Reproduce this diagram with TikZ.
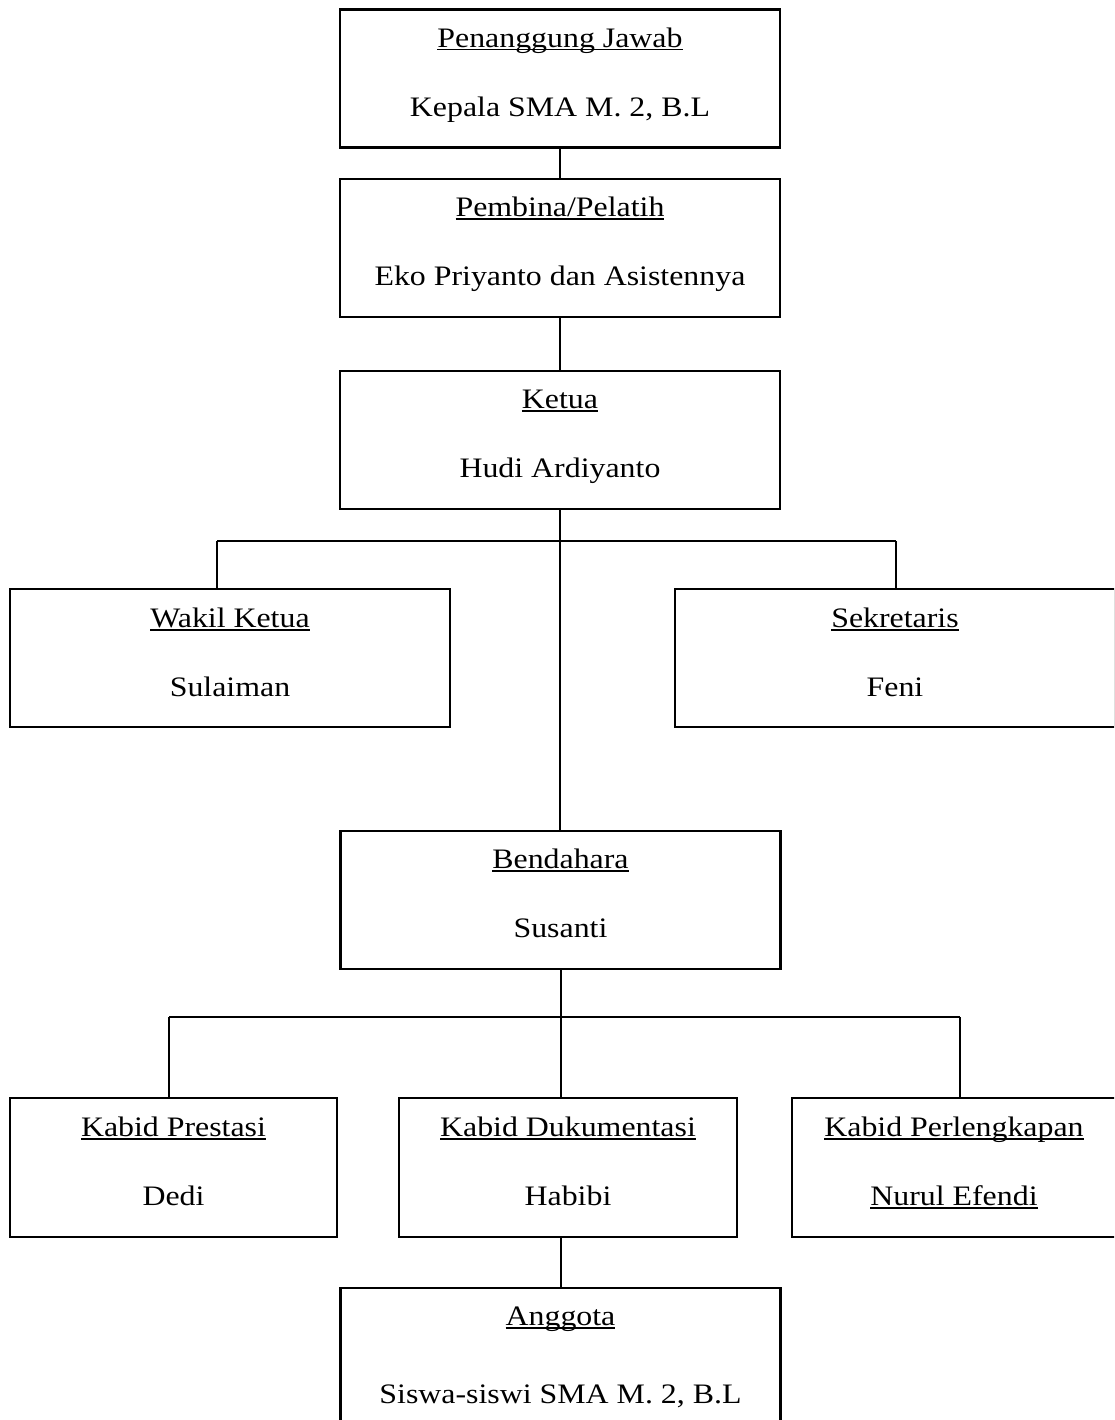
\documentclass[tikz,border=0pt]{standalone}
\usepackage{fontspec}
\setmainfont{Liberation Serif}[FakeStretch=1.13]
\newcommand\myul[1]{\setbox0\hbox{#1}\rlap{\rule[-3bp]{\wd0}{1.6bp}}\box0}
\begin{document}
\begin{tikzpicture}[x=1bp,y=-1bp,
  orgbox/.style={draw, line width=2.3bp, minimum height=138bp, inner sep=0pt},
  lbl/.style={anchor=base, inner sep=0pt, font=\fontsize{28.2bp}{34bp}\selectfont},
  link/.style={line width=2bp}]
\clip (0,0) rectangle (1114,1420);
% boxes
\node[orgbox, minimum width=440bp] (pj) at (560,78.5) {};
\node[orgbox, minimum width=440bp] (pb) at (560,248) {};
\node[orgbox, minimum width=440bp] (kt) at (560,440) {};
\node[orgbox, minimum width=440bp] (wk) at (230,658) {};
\node[orgbox, minimum width=440bp] (sk) at (895,658) {};
\node[orgbox, minimum width=440bp] (bd) at (560.5,900) {};
\node[orgbox, minimum width=327bp, minimum height=139bp] (pr) at (173.5,1167.5) {};
\node[orgbox, minimum width=338bp, minimum height=139bp] (dk) at (568,1167.5) {};
\node[orgbox, minimum width=324bp, minimum height=139bp] (pl) at (954,1167.5) {};
\node[orgbox, minimum width=440bp] (ag) at (560.5,1357) {};
% texts
\node[lbl] (pjt) at ([yshift=-39bp]pj.north) {\myul{Penanggung Jawab}};
\node[lbl] (pjn) at ([yshift=-108bp]pj.north) {Kepala SMA M. 2, B.L};
\node[lbl] (pbt) at ([yshift=-39bp]pb.north) {\myul{Pembina/Pelatih}};
\node[lbl] (pbn) at ([yshift=-108bp]pb.north) {Eko Priyanto dan Asistennya};
\node[lbl] (ktt) at ([yshift=-39bp]kt.north) {\myul{Ketua}};
\node[lbl] (ktn) at ([yshift=-108bp]kt.north) {Hudi Ardiyanto};
\node[lbl] (wkt) at ([yshift=-40bp]wk.north) {\myul{Wakil Ketua}};
\node[lbl] (wkn) at ([yshift=-109bp]wk.north) {Sulaiman};
\node[lbl] (skt) at ([yshift=-40bp]sk.north) {\myul{Sekretaris}};
\node[lbl] (skn) at ([yshift=-109bp]sk.north) {Feni};
\node[lbl] (bdt) at ([yshift=-39bp]bd.north) {\myul{Bendahara}};
\node[lbl] (bdn) at ([yshift=-108bp]bd.north) {Susanti};
\node[lbl] (prt) at ([yshift=-40bp]pr.north) {\myul{Kabid Prestasi}};
\node[lbl] (prn) at ([yshift=-109bp]pr.north) {Dedi};
\node[lbl] (dkt) at ([yshift=-40bp]dk.north) {\myul{Kabid Dukumentasi}};
\node[lbl] (dkn) at ([yshift=-109bp]dk.north) {Habibi};
\node[lbl] (plt) at ([yshift=-40bp]pl.north) {\myul{Kabid Perlengkapan}};
\node[lbl] (pln) at ([yshift=-109bp]pl.north) {\myul{Nurul Efendi}};
\node[lbl] (agt) at ([yshift=-39bp]ag.north) {\myul{Anggota}};
\node[lbl] (agn) at ([yshift=-117bp]ag.north) {Siswa-siswi SMA M. 2, B.L};
% connectors
\draw[link] (pj.south) -- (pb.north);
\draw[link] (pb.south) -- (kt.north);
\draw[link] (kt.south) -- (kt.south |- bd.north);
\coordinate (barL) at (217,541);
\coordinate (barR) at (896,541);
\draw[link] (barL) -- (barR);
\draw[link] (barL) -- (barL |- wk.north);
\draw[link] (barR) -- (barR |- sk.north);
\draw[link] (bd.south) -- (bd.south |- dk.north);
\coordinate (lowL) at (169,1017);
\coordinate (lowR) at (960,1017);
\draw[link] (lowL) -- (lowR);
\draw[link] (lowL) -- (lowL |- pr.north);
\draw[link] (lowR) -- (lowR |- pl.north);
\draw[link] (ag.north |- dk.south) -- (ag.north);
\end{tikzpicture}
\end{document}
